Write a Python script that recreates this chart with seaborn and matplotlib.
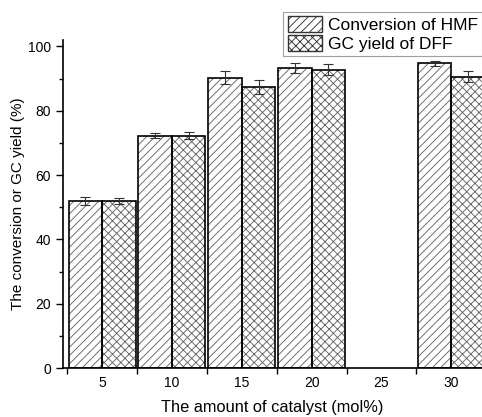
import matplotlib
matplotlib.use("Agg")
import matplotlib.pyplot as plt
import seaborn as sns
import pandas as pd
from matplotlib.patches import Rectangle, Patch
from matplotlib.ticker import MultipleLocator, FixedLocator

amounts = ["5", "10", "15", "20", "25", "30"]
data_amounts = ["5", "10", "15", "20", "30"]
series = ["Conversion of HMF", "GC yield of DFF"]
conv_hmf = [52.0, 72.3, 90.3, 93.3, 94.8]
conv_err = [1.2, 0.8, 2.0, 1.6, 0.8]
yield_dff = [52.0, 72.2, 87.5, 92.8, 90.6]
yield_err = [1.0, 1.1, 2.2, 1.6, 1.8]
hatches = ["////", "xxxx"]

df = pd.DataFrame({
    "amount": data_amounts * 2,
    "series": [series[0]] * len(data_amounts) + [series[1]] * len(data_amounts),
    "value": conv_hmf + yield_dff,
})

sns.set_theme(style="ticks")
plt.rcParams["font.family"] = ["Liberation Sans", "DejaVu Sans"]
plt.rcParams["hatch.linewidth"] = 0.65
plt.rcParams["hatch.color"] = "#666666"
plt.rcParams["text.color"] = "black"
plt.rcParams["axes.labelcolor"] = "black"
plt.rcParams["xtick.color"] = "black"
plt.rcParams["ytick.color"] = "black"

fig = plt.figure(figsize=(4.82, 4.17), dpi=100)
ax = fig.add_axes([63 / 482, 49 / 417, 1 - 63 / 482, (368 - 40) / 417])

sns.barplot(data=df, x="amount", y="value", hue="series", order=amounts,
            hue_order=series, width=0.96, errorbar=None, ax=ax, legend=False,
            palette=["white", "white"], saturation=1)

errs = [conv_err, yield_err]
bar_conts = list(ax.containers)
for ci, cont in enumerate(bar_conts):
    bars = [b for b in cont if b is not None]
    for bi, bar in enumerate(bars):
        bar.set_hatch(hatches[ci])
        bar.set_edgecolor("#666666")
        bar.set_linewidth(0)
        x0, w, h = bar.get_x(), bar.get_width(), bar.get_height()
        ax.add_patch(Rectangle((x0, 0), w, h, fill=False, edgecolor="black",
                               linewidth=1.2, zorder=3))
        ax.errorbar(x0 + w / 2, h, yerr=errs[ci][bi], fmt="none",
                    ecolor="#333333", elinewidth=0.8, capsize=3.5, capthick=0.8,
                    zorder=4)

ax.set_ylim(0, 102)
ax.set_xlim(-0.56, 5.44)
ax.yaxis.set_major_locator(MultipleLocator(20))
ax.yaxis.set_minor_locator(MultipleLocator(10))
ax.xaxis.set_minor_locator(FixedLocator([i - 0.5 for i in range(len(amounts))]))
ax.tick_params(axis="x", which="major", length=0, labelsize=10, pad=6)
ax.tick_params(axis="x", which="minor", length=4, width=1, direction="out")
ax.tick_params(axis="y", which="major", length=5, width=1, labelsize=10, direction="out")
ax.tick_params(axis="y", which="minor", length=3, width=1, direction="out")
for s in ["top", "right"]:
    ax.spines[s].set_visible(False)
for s in ["left", "bottom"]:
    ax.spines[s].set_color("black")
    ax.spines[s].set_linewidth(1.2)

ax.set_xlabel("The amount of catalyst (mol%)", fontsize=11.8, labelpad=7)
ax.set_ylabel("The conversion or GC yield (%)", fontsize=11)
ax.yaxis.set_label_coords(-0.09, 0.5)

handles = [Patch(facecolor="white", edgecolor="#333333", hatch=h, linewidth=1.0)
           for h in hatches]
leg = ax.legend(handles, series, loc="upper right", bbox_to_anchor=(1.0, 1 - 12 / 417),
                bbox_transform=fig.transFigure, fontsize=12.5, frameon=True,
                fancybox=False, handlelength=2.0, handleheight=1.0,
                borderpad=0.25, labelspacing=0.12, handletextpad=0.3, borderaxespad=0)
leg.get_frame().set_edgecolor("#888888")
leg.get_frame().set_linewidth(0.8)

fig.savefig("out.png", dpi=100)
